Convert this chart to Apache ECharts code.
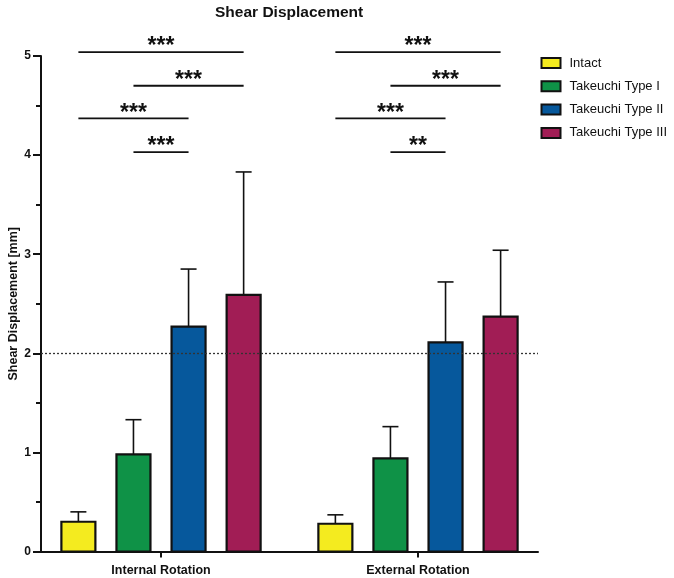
<!DOCTYPE html>
<html>
<head>
<meta charset="utf-8">
<script src="https://cdn.jsdelivr.net/npm/echarts@6/dist/echarts.min.js"></script>
<style>html,body{margin:0;padding:0;background:#fff;}#chart{width:674px;height:578px;}</style>
</head>
<body>
<div id="chart"></div>
<script>
// ---- data ----
const categories = ['Internal Rotation', 'External Rotation'];
const groups = ['Intact', 'Takeuchi Type I', 'Takeuchi Type II', 'Takeuchi Type III'];
const meanIntact = [0.30, 0.28];
const sdIntact = [0.10, 0.09];
const meanType1 = [0.98, 0.94];
const sdType1 = [0.35, 0.32];
const meanType2 = [2.27, 2.11];
const sdType2 = [0.58, 0.61];
const meanType3 = [2.59, 2.37];
const sdType3 = [1.24, 0.67];
const yTicks = [0, 1, 2, 3, 4, 5];
const thresholdValue = 2;
// significance brackets
const sigCategory = [0, 0, 0, 0, 1, 1, 1, 1];
const sigFrom = [0, 1, 0, 1, 0, 1, 0, 1];
const sigTo = [3, 3, 2, 2, 3, 3, 2, 2];
const sigLevel = [5.04, 4.70, 4.37, 4.03, 5.04, 4.70, 4.37, 4.03];
const sigLabel = ['***', '***', '***', '***', '***', '***', '***', '**'];

// ---- style / layout ----
const colors = ['#F4EB1F', '#0F9247', '#06589C', '#A11D55'];
const offsets = [-0.3215, -0.1072, 0.1072, 0.3215];
const barW = 0.1323;
const capHalf = 8;
const font = 'Liberation Sans, Arial, Helvetica, sans-serif';
const ink = '#111';

const means = [meanIntact, meanType1, meanType2, meanType3];
const sds = [sdIntact, sdType1, sdType2, sdType3];

function barRender(gi) {
  return function (params, api) {
    const c = api.value(0), m = api.value(1), s = api.value(2);
    const x = c + offsets[gi];
    const p0 = api.coord([x, 0]);
    const p1 = api.coord([x, m]);
    const p2 = api.coord([x, m + s]);
    const w = api.size([barW, 0])[0];
    return {
      type: 'group',
      children: [
        { type: 'line', shape: { x1: p1[0], y1: p1[1], x2: p2[0], y2: p2[1] }, style: { stroke: ink, lineWidth: 1.6 } },
        { type: 'line', shape: { x1: p2[0] - capHalf, y1: p2[1], x2: p2[0] + capHalf, y2: p2[1] }, style: { stroke: ink, lineWidth: 1.6 } },
        { type: 'rect', shape: { x: p1[0] - w / 2, y: p1[1], width: w, height: p0[1] - p1[1] }, style: { fill: colors[gi], stroke: ink, lineWidth: 2.2 } }
      ]
    };
  };
}

const series = groups.map(function (g, gi) {
  return {
    name: g,
    type: 'custom',
    z: 3,
    itemStyle: { color: colors[gi] },
    encode: { x: 0, y: 1 },
    data: categories.map(function (c, ci) { return [ci, means[gi][ci], sds[gi][ci]]; }),
    renderItem: barRender(gi)
  };
});

// threshold dotted line (behind bars)
series.push({
  type: 'custom',
  z: 1,
  silent: true,
  data: [],
  renderItem: function () { return null; },
  markLine: {
    silent: true,
    symbol: ['none', 'none'],
    label: { show: false },
    lineStyle: { type: [2, 2], color: '#333', width: 1.3 },
    data: [{ yAxis: thresholdValue }]
  }
});

// significance brackets
series.push({
  type: 'custom',
  z: 4,
  silent: true,
  encode: { x: 1, y: 3 },
  data: sigCategory.map(function (c, i) { return [c, sigFrom[i], sigTo[i], sigLevel[i], sigLabel[i]]; }),
  renderItem: function (params, api) {
    const c = api.value(0);
    const a = api.coord([c + offsets[api.value(1)], api.value(3)]);
    const b = api.coord([c + offsets[api.value(2)], api.value(3)]);
    const lab = sigLabel[params.dataIndex];
    return {
      type: 'group',
      children: [
        { type: 'line', shape: { x1: a[0], y1: a[1], x2: b[0], y2: b[1] }, style: { stroke: ink, lineWidth: 1.8 } },
        { type: 'text', x: (a[0] + b[0]) / 2, y: a[1] - 5, style: { text: lab, fill: ink, font: 'bold 23px ' + font, align: 'center', verticalAlign: 'middle' } }
      ]
    };
  }
});

const option = {
  backgroundColor: '#fff',
  animation: false,
  title: {
    text: 'Shear Displacement',
    left: 210,
    top: 0,
    textStyle: { fontFamily: font, fontSize: 15.5, fontWeight: 'bold', color: ink }
  },
  legend: {
    orient: 'vertical',
    left: 535.5,
    top: 51,
    icon: 'rect',
    itemWidth: 19,
    itemHeight: 10,
    itemGap: 9.3,
    itemStyle: { borderColor: ink, borderWidth: 2 },
    textStyle: { fontFamily: font, fontSize: 13, color: ink, lineHeight: 14, padding: [0, 0, 0, 4] },
    data: groups
  },
  grid: { left: 41, top: 56, right: 136, bottom: 26.5, outerBoundsMode: 'none', containLabel: false },
  xAxis: {
    type: 'value',
    min: -0.467,
    max: 1.467,
    splitLine: { show: false },
    axisLine: { show: true, onZero: false, lineStyle: { color: ink, width: 2 } },
    axisTick: { show: true, customValues: [0, 1], length: 6, lineStyle: { color: ink, width: 2 } },
    axisLabel: {
      customValues: [0, 1],
      margin: 12.5,
      formatter: function (v) { return categories[Math.round(v)]; },
      fontFamily: font, fontSize: 12.5, fontWeight: 'bold', color: ink
    }
  },
  yAxis: {
    type: 'value',
    min: yTicks[0],
    max: yTicks[yTicks.length - 1],
    interval: 1,
    name: 'Shear Displacement [mm]',
    nameLocation: 'middle',
    nameGap: 21,
    nameMoveOverlap: false,
    nameTextStyle: { fontFamily: font, fontSize: 12.5, fontWeight: 'bold', color: ink },
    splitLine: { show: false },
    axisLine: { show: true, onZero: false, lineStyle: { color: ink, width: 2 } },
    axisTick: { show: true, length: 8, lineStyle: { color: ink, width: 2 } },
    minorTick: { show: true, splitNumber: 2, length: 5, lineStyle: { color: ink, width: 2 } },
    axisLabel: { margin: 10, fontFamily: font, fontSize: 12, fontWeight: 'bold', color: ink }
  },
  series: series
};

const chart = echarts.init(document.getElementById('chart'), null, { renderer: 'canvas' });
chart.setOption(option);
</script>
</body>
</html>
